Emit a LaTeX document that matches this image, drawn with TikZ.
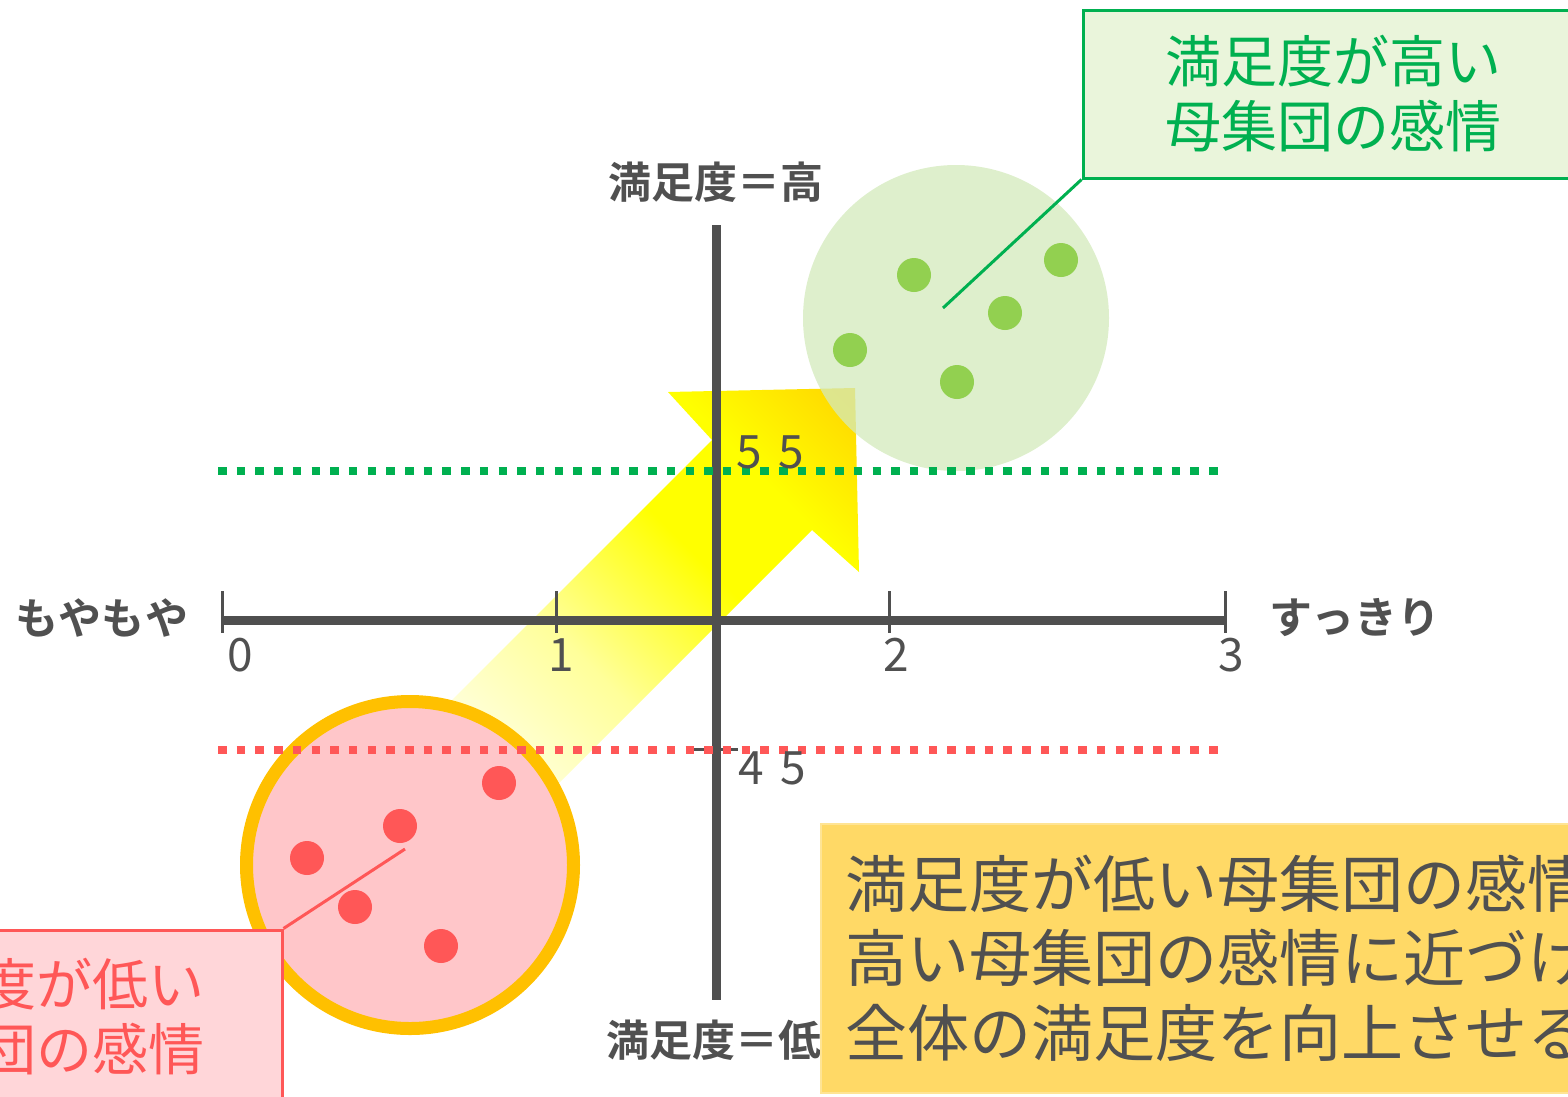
\documentclass[tikz,border=0pt]{standalone}
\usepackage{fontspec}
\setmainfont{Noto Sans CJK JP}[BoldFont={Noto Sans CJK JP Bold}]
\usepackage{tikz}

\definecolor{axisgray}{HTML}{4F4F4F}
\definecolor{textgray}{HTML}{505050}
\definecolor{highgreen}{HTML}{00B050}
\definecolor{dotgreen}{HTML}{92D050}
\definecolor{popgreen}{HTML}{D3EABB}
\definecolor{boxgreen}{HTML}{EAF5DB}
\definecolor{lowred}{HTML}{FF5757}
\definecolor{poppink}{HTML}{FFC6C9}
\definecolor{boxpink}{HTML}{FFD6D9}
\definecolor{ringgold}{HTML}{FFC000}
\definecolor{notegold}{HTML}{FFD966}
\definecolor{paleyellow}{HTML}{FFFF9A}
\definecolor{goldyellow}{HTML}{FFD800}

\pgfdeclarehorizontalshading{arrowshade}{100bp}{color(0bp)=(white); color(16bp)=(white); color(40bp)=(paleyellow); color(58bp)=(yellow); color(70bp)=(yellow); color(84bp)=(goldyellow); color(100bp)=(ringgold)}

\tikzset{
  axis/.style={draw=axisgray, line width=9pt},
  tick/.style={draw=axisgray, line width=3pt},
  ticklabel/.style={text=textgray, font=\fontsize{46}{50}\selectfont},
  axislabel/.style={text=textgray, font=\bfseries\fontsize{43}{46}\selectfont},
  highline/.style={draw=highgreen, line width=8pt, dash pattern=on 8.5pt off 10.2pt},
  lowline/.style={draw=lowred, line width=8pt, dash pattern=on 8.5pt off 10.2pt},
  gdot/.style={shape=circle, fill=dotgreen, minimum size=34pt, inner sep=0pt},
  rdot/.style={shape=circle, fill=lowred, minimum size=34pt, inner sep=0pt},
  callout/.style={shape=rectangle, line width=3pt, align=center, inner sep=0pt,
    font=\fontsize{56}{65}\selectfont},
}

\begin{document}
\begin{tikzpicture}[x=1pt, y=-1pt]
\useasboundingbox (0,0) rectangle (1568,1096);
\clip (0,0) rectangle (1568,1096);

\shade[shading=arrowshade, shading angle=45] (430,722) -- (712,440) -- (668,392) -- (855,388) -- (859,572) -- (812,530) -- (530,812) -- cycle;

\node[shape=circle, fill=popgreen, fill opacity=0.75, minimum size=306pt, inner sep=0pt](highpop) at (956,318) {};
\node[gdot](g1) at (914,275) {};
\node[gdot](g2) at (1061,260) {};
\node[gdot](g3) at (1005,313) {};
\node[gdot](g4) at (850,350) {};
\node[gdot](g5) at (957,382) {};

\node[shape=circle, fill=poppink, draw=ringgold, line width=13pt, minimum size=327pt, inner sep=0pt](lowpop) at (410,865) {};
\node[rdot](r1) at (499,783) {};
\node[rdot](r2) at (400,826) {};
\node[rdot](r3) at (307,858) {};
\node[rdot](r4) at (355,907) {};
\node[rdot](r5) at (441,946) {};

\coordinate (xl) at (222,620);
\coordinate (xr) at (1225,620);
\coordinate (yt) at (716,225);
\coordinate (yb) at (716,1000);
\path[axis] (xl) edge (xr);
\path[axis] (yt) edge (yb);

\path[tick] (222,591) edge (222,633);
\path[tick] (556,591) edge (556,633);
\path[tick] (889,591) edge (889,633);
\path[tick] (1225,591) edge (1225,633);
\path[tick] (692,749) edge (738,749);

\node[ticklabel](t0) at (240,655) {0};
\node[ticklabel](t1) at (561,655) {1};
\node[ticklabel](t2) at (896,655) {2};
\node[ticklabel](t3) at (1231,655) {3};

\coordinate (gl) at (218,471);
\coordinate (gr) at (1222,471);
\coordinate (rl) at (218,750);
\coordinate (rr) at (1222,750);
\path[highline] (gl) edge (gr);
\path[lowline] (rl) edge (rr);

\node[ticklabel](s55) at (770,452) {5\hspace{6pt} 5};
\node[ticklabel](s45) at (772,768) {4\hspace{6pt} 5};

\node[axislabel](top) at (716,182) {満足度＝高};
\node[axislabel](bottom) at (714,1040) {満足度＝低};
\node[axislabel](left) at (102,618) {もやもや};
\node[axislabel](right) at (1355,618) {すっきり};

\node[callout, draw=highgreen, fill=boxgreen, text=highgreen, minimum width=500pt, minimum height=168pt](highbox) at (1333,94) {満足度が高い\\母集団の感情};
\node[callout, draw=lowred, fill=boxpink, text=lowred, minimum width=490pt, minimum height=174pt](lowbox) at (37,1017) {満足度が低い\\母集団の感情};

\coordinate (gc) at (943,308);
\coordinate (rc) at (405,849);
\path[draw=highgreen, line width=3pt] (gc) edge (highbox.south west);
\path[draw=lowred, line width=3pt] (rc) edge (lowbox.north east);

\node[shape=rectangle, fill=notegold, draw=notegold!70!white, line width=1.5pt, anchor=north west, minimum height=269pt, text width=900pt, inner xsep=25pt, inner ysep=0pt, align=left, text=textgray, font=\fontsize{62}{74.5}\selectfont](note) at (820,823) {満足度が低い母集団の感情\\高い母集団の感情に近づけ\\全体の満足度を向上させる};
\end{tikzpicture}
\end{document}
